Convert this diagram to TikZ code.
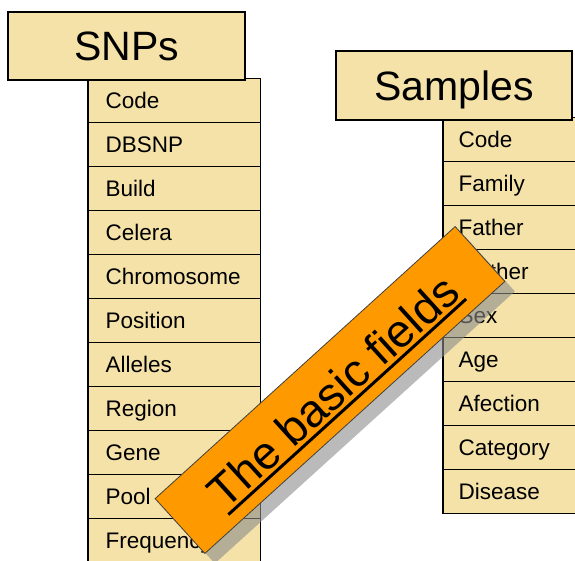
\documentclass[tikz,border=0pt]{standalone}
\usepackage{fontspec}
\setmainfont{Liberation Sans}
\definecolor{fieldfill}{RGB}{244,226,168}
\definecolor{bannerfill}{RGB}{255,153,0}
\begin{document}
\begin{tikzpicture}[x=1pt,y=1pt,
  titlebox/.style={draw=black, line width=1.3pt, fill=fieldfill,
    font=\fontsize{41}{41}\selectfont, inner sep=0pt,
    text height=29pt, text depth=0pt},
  field/.style={draw=black, line width=1.2pt, fill=fieldfill,
    font=\fontsize{22.5}{22.5}\selectfont, anchor=north west,
    inner xsep=#1, inner ysep=0pt, minimum height=44pt,
    align=left, text height=16pt, text depth=0pt},
  bannerbox/.style={draw=black!75, line width=0.8pt, fill=bannerfill,
    minimum width=405pt, minimum height=74pt, inner sep=0pt},
  shadowbox/.style={fill=black!45, opacity=0.6,
    minimum width=405pt, minimum height=74pt, inner sep=0pt},
]
\useasboundingbox (0,0) rectangle (575,-560);

% SNPs table
\foreach \t [count=\i] in {Code,DBSNP,Build,Celera,Chromosome,Position,Alleles,Region,Gene,Pool,Frequency}
  \node[field=17pt, text width=138pt] (snp\i) at (88,{-78-44*(\i-1)}) {\t};
\draw[line width=2pt] (snp1.north west) -- (snp11.south west);
\node[titlebox, minimum width=237pt, minimum height=68pt] (snps) at (126.5,-46) {SNPs};

% Samples table
\foreach \t [count=\i] in {Code,Family,Father,Mother,Sex,Age,Afection,Category,Disease}
  \node[field=15pt, text width=150pt] (smp\i) at (443,{-117-44*(\i-1)}) {\t};
\draw[line width=2pt] (smp1.north west) -- (smp9.south west);
\node[titlebox, minimum width=236pt, minimum height=69pt] (samples) at (454,-85.5) {Samples};

% diagonal banner with its shadow
\begin{scope}[shift={(340,-400)}, rotate=42.2, transform shape]
  \node[shadowbox] (bannershadow) at (0,0) {};
\end{scope}
\begin{scope}[shift={(330,-390)}, rotate=42.2, transform shape]
  \node[bannerbox] (banner) at (0,0) {};
  \node[font=\fontsize{46}{46}\selectfont, inner sep=0pt,
        text height=33pt, text depth=0pt] (bannertext) at (1.5,-2.5) {The basic fields};
  \coordinate (ulstart) at (-159,-24);
  \coordinate (ulend) at (162,-24);
  \draw[line width=3pt] (ulstart) -- (ulend);
\end{scope}
\end{tikzpicture}
\end{document}
